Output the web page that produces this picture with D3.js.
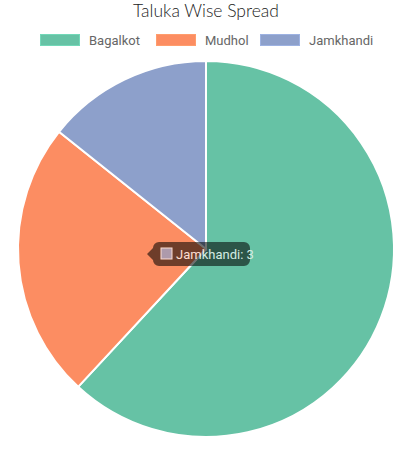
<!DOCTYPE html>
<html lang="en">
<head>
    <meta charset="UTF-8">
    <script src="https://d3js.org/d3.v7.min.js"></script>
    <style>
        body { margin: 0; background: #fff; }
    </style>
</head>
<body>
    <svg width="412" height="449" id="pie"></svg>

    <script>
    // Data
    const talukas = ["Bagalkot", "Mudhol", "Jamkhandi"];
    const counts = [13, 5, 3];
    const colors = ["#66c2a5", "#fc8d62", "#8da0cb"];

    const svg = d3.select("#pie");
    const cx = 206, cy = 249, radius = 188;

    const data = talukas.map((t, i) => ({ name: t, value: counts[i], color: colors[i] }));

    // Title
    svg.append("text")
        .attr("x", 206)
        .attr("y", 17)
        .attr("text-anchor", "middle")
        .style("font-family", "Lato, sans-serif")
        .style("font-size", "17.5px")
        .style("font-weight", "300")
        .style("fill", "#222")
        .text("Taluka Wise Spread");

    // Legend
    const legendX = [40, 156, 260];
    const legend = svg.append("g");
    data.forEach((d, i) => {
        legend.append("rect")
            .attr("x", legendX[i] + 0.5)
            .attr("y", 34.5)
            .attr("width", 39)
            .attr("height", 11)
            .attr("fill", d.color)
            .attr("stroke", d3.color(d.color).brighter(0.3))
            .attr("stroke-width", 1);
        legend.append("text")
            .attr("x", legendX[i] + 49)
            .attr("y", 45)
            .style("font-family", "Roboto, Arial, sans-serif")
            .style("font-size", "13px")
            .style("fill", "#666")
            .text(d.name);
    });

    // Pie
    const pie = d3.pie().sort(null).value(d => d.value);
    const arc = d3.arc().innerRadius(0).outerRadius(radius);

    const g = svg.append("g").attr("transform", "translate(" + cx + "," + cy + ")");
    g.selectAll("path")
        .data(pie(data))
        .enter().append("path")
        .attr("d", arc)
        .attr("fill", d => d.data.color)
        .attr("stroke", "#fff")
        .attr("stroke-width", 2);

    // Tooltip for Jamkhandi (caught mid fade-in)
    const tip = svg.append("g")
        .attr("transform", "translate(153,242)")
        .style("opacity", 0.7);
    tip.append("path")
        .attr("d", "M6,0 H91 a6,6 0 0 1 6,6 V18 a6,6 0 0 1 -6,6 H6 a6,6 0 0 1 -6,-6 V18 L-6,12 L0,6 a6,6 0 0 1 6,-6 Z")
        .attr("fill", "rgba(0,0,0,0.8)");
    tip.append("rect")
        .attr("x", 8)
        .attr("y", 6)
        .attr("width", 11)
        .attr("height", 11)
        .attr("fill", colors[2])
        .attr("stroke", "#fff")
        .attr("stroke-width", 1);
    tip.append("text")
        .attr("x", 23)
        .attr("y", 16.5)
        .style("font-family", "Roboto, Arial, sans-serif")
        .style("font-size", "13px")
        .style("fill", "#fff")
        .text(talukas[2] + ": " + counts[2]);
    </script>
</body>
</html>
